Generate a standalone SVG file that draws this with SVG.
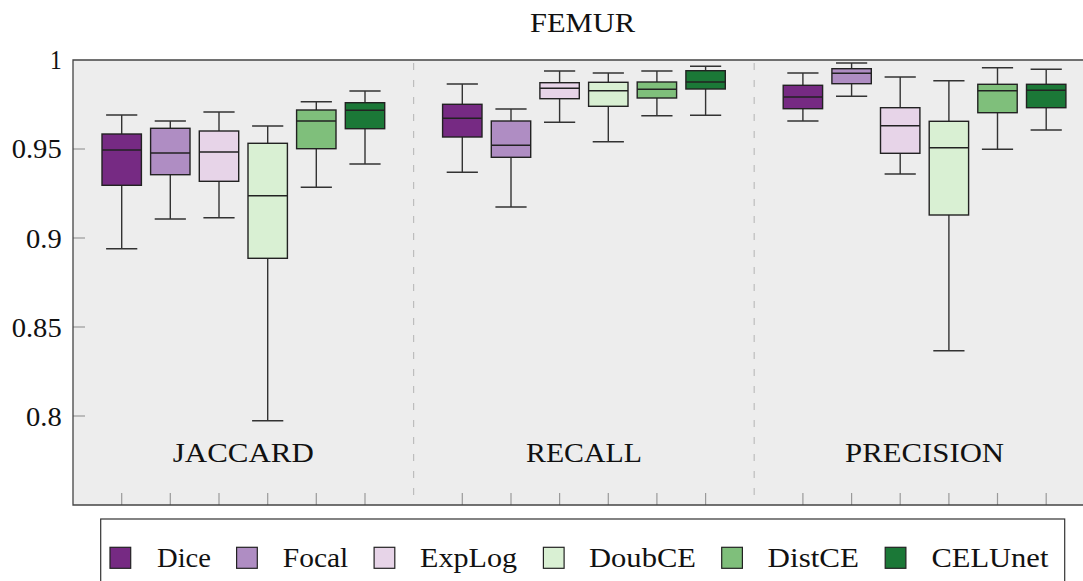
<svg xmlns="http://www.w3.org/2000/svg" width="1083" height="581" viewBox="0 0 1083 581">
  <style>
    .lbl { font-family: "Liberation Serif", "DejaVu Serif", "Times New Roman", serif; font-size: 28px; fill: #111; }
    .frame { fill: none; stroke: #444; stroke-width: 1.3; }
    .tick { stroke: #9a9a9a; stroke-width: 1.2; }
    .sep { stroke: #bdbdbd; stroke-width: 1.2; stroke-dasharray: 7 10; }
    .whisk { stroke: #333; stroke-width: 1.4; fill: none; }
    .box { stroke: #222; stroke-width: 1.4; }
    .med { stroke: #222; stroke-width: 1.4; }
    .c0 { fill: #762a83; }
    .c1 { fill: #af8dc3; }
    .c2 { fill: #e7d4e8; }
    .c3 { fill: #d9f0d3; }
    .c4 { fill: #7fbf7b; }
    .c5 { fill: #1b7837; }
    .key { stroke: #222; stroke-width: 1.2; }
  </style>

  <!-- title -->
  <text class="lbl" font-family="Liberation Serif, DejaVu Serif, serif" x="530" y="31.7" textLength="105" lengthAdjust="spacingAndGlyphs">FEMUR</text>

  <!-- plot area -->
  <g id="axes">
    <rect x="73" y="60" width="1030" height="445" fill="#ededed"/>
    <line class="sep" x1="413.6" y1="63" x2="413.6" y2="505"/>
    <line class="sep" x1="754.2" y1="63" x2="754.2" y2="505"/>
    <!-- y ticks -->
    <line class="tick" x1="73" y1="149" x2="85" y2="149"/>
    <line class="tick" x1="73" y1="238" x2="85" y2="238"/>
    <line class="tick" x1="73" y1="327" x2="85" y2="327"/>
    <line class="tick" x1="73" y1="416" x2="85" y2="416"/>
    <!-- x ticks -->
    <g class="tick">
      <line x1="121.7" y1="493" x2="121.7" y2="505"/>
      <line x1="170.3" y1="493" x2="170.3" y2="505"/>
      <line x1="219.0" y1="493" x2="219.0" y2="505"/>
      <line x1="267.7" y1="493" x2="267.7" y2="505"/>
      <line x1="316.3" y1="493" x2="316.3" y2="505"/>
      <line x1="365.0" y1="493" x2="365.0" y2="505"/>
      <line x1="462.3" y1="493" x2="462.3" y2="505"/>
      <line x1="511.0" y1="493" x2="511.0" y2="505"/>
      <line x1="559.6" y1="493" x2="559.6" y2="505"/>
      <line x1="608.3" y1="493" x2="608.3" y2="505"/>
      <line x1="656.9" y1="493" x2="656.9" y2="505"/>
      <line x1="705.6" y1="493" x2="705.6" y2="505"/>
      <line x1="802.9" y1="493" x2="802.9" y2="505"/>
      <line x1="851.6" y1="493" x2="851.6" y2="505"/>
      <line x1="900.2" y1="493" x2="900.2" y2="505"/>
      <line x1="948.9" y1="493" x2="948.9" y2="505"/>
      <line x1="997.5" y1="493" x2="997.5" y2="505"/>
      <line x1="1046.2" y1="493" x2="1046.2" y2="505"/>
    </g>
    <path class="frame" d="M1103,60 H73 V505 H1103"/>
    <!-- y tick labels -->
    <g class="lbl" font-family="Liberation Serif, DejaVu Serif, serif">
      <text x="50" y="69" textLength="11.7" lengthAdjust="spacingAndGlyphs">1</text>
      <text x="11.7" y="158" textLength="50" lengthAdjust="spacingAndGlyphs">0.95</text>
      <text x="26" y="247.5" textLength="35.7" lengthAdjust="spacingAndGlyphs">0.9</text>
      <text x="11.7" y="336.5" textLength="50" lengthAdjust="spacingAndGlyphs">0.85</text>
      <text x="26" y="425.5" textLength="35.7" lengthAdjust="spacingAndGlyphs">0.8</text>
      <!-- group labels -->
      <text x="243.3" y="462" text-anchor="middle" textLength="141" lengthAdjust="spacingAndGlyphs">JACCARD</text>
      <text x="584" y="462" text-anchor="middle" textLength="116" lengthAdjust="spacingAndGlyphs">RECALL</text>
      <text x="924.6" y="462" text-anchor="middle" textLength="159" lengthAdjust="spacingAndGlyphs">PRECISION</text>
    </g>
  </g>

  <!-- JACCARD -->
  <g id="jaccard-dice">
    <path class="whisk" d="M121.7,115 V134 M121.7,185.3 V248.7 M106.1,115 H137.3 M106.1,248.7 H137.3"/>
    <rect class="box c0" x="102" y="134" width="39.4" height="51.3"/>
    <line class="med" x1="102" y1="150" x2="141.4" y2="150"/>
  </g>
  <g id="jaccard-focal">
    <path class="whisk" d="M170.3,121 V128.3 M170.3,174.7 V219 M154.7,121 H185.9 M154.7,219 H185.9"/>
    <rect class="box c1" x="150.6" y="128.3" width="39.4" height="46.4"/>
    <line class="med" x1="150.6" y1="153" x2="190" y2="153"/>
  </g>
  <g id="jaccard-explog">
    <path class="whisk" d="M219,112 V131 M219,181.3 V217.7 M203.4,112 H234.6 M203.4,217.7 H234.6"/>
    <rect class="box c2" x="199.3" y="131" width="39.4" height="50.3"/>
    <line class="med" x1="199.3" y1="152" x2="238.7" y2="152"/>
  </g>
  <g id="jaccard-doubce">
    <path class="whisk" d="M267.7,126 V143.3 M267.7,258.3 V420.7 M252.1,126 H283.3 M252.1,420.7 H283.3"/>
    <rect class="box c3" x="248" y="143.3" width="39.4" height="115"/>
    <line class="med" x1="248" y1="195.7" x2="287.4" y2="195.7"/>
  </g>
  <g id="jaccard-distce">
    <path class="whisk" d="M316.3,101.7 V110 M316.3,148.7 V187.3 M300.7,101.7 H331.9 M300.7,187.3 H331.9"/>
    <rect class="box c4" x="296.6" y="110" width="39.4" height="38.7"/>
    <line class="med" x1="296.6" y1="121" x2="336" y2="121"/>
  </g>
  <g id="jaccard-celunet">
    <path class="whisk" d="M365,91 V102.7 M365,128.7 V164 M349.4,91 H380.6 M349.4,164 H380.6"/>
    <rect class="box c5" x="345.3" y="102.7" width="39.4" height="26"/>
    <line class="med" x1="345.3" y1="110.3" x2="384.7" y2="110.3"/>
  </g>

  <!-- RECALL -->
  <g id="recall-dice">
    <path class="whisk" d="M462.3,84 V104.3 M462.3,137 V172.3 M446.7,84 H477.9 M446.7,172.3 H477.9"/>
    <rect class="box c0" x="442.6" y="104.3" width="39.4" height="32.7"/>
    <line class="med" x1="442.6" y1="118.3" x2="482" y2="118.3"/>
  </g>
  <g id="recall-focal">
    <path class="whisk" d="M511,109 V121 M511,157.3 V207 M495.4,109 H526.6 M495.4,207 H526.6"/>
    <rect class="box c1" x="491.3" y="121" width="39.4" height="36.3"/>
    <line class="med" x1="491.3" y1="145.3" x2="530.7" y2="145.3"/>
  </g>
  <g id="recall-explog">
    <path class="whisk" d="M559.6,71 V82.7 M559.6,98.7 V122.3 M544,71 H575.2 M544,122.3 H575.2"/>
    <rect class="box c2" x="539.9" y="82.7" width="39.4" height="16"/>
    <line class="med" x1="539.9" y1="88.3" x2="579.3" y2="88.3"/>
  </g>
  <g id="recall-doubce">
    <path class="whisk" d="M608.3,73 V82.3 M608.3,106.3 V141.7 M592.7,73 H623.9 M592.7,141.7 H623.9"/>
    <rect class="box c3" x="588.6" y="82.3" width="39.4" height="24"/>
    <line class="med" x1="588.6" y1="90.7" x2="628" y2="90.7"/>
  </g>
  <g id="recall-distce">
    <path class="whisk" d="M656.9,71 V82 M656.9,98 V115.7 M641.3,71 H672.5 M641.3,115.7 H672.5"/>
    <rect class="box c4" x="637.2" y="82" width="39.4" height="16"/>
    <line class="med" x1="637.2" y1="89.3" x2="676.6" y2="89.3"/>
  </g>
  <g id="recall-celunet">
    <path class="whisk" d="M705.6,66.3 V70.7 M705.6,89 V115.3 M690,66.3 H721.2 M690,115.3 H721.2"/>
    <rect class="box c5" x="685.9" y="70.7" width="39.4" height="18.3"/>
    <line class="med" x1="685.9" y1="82" x2="725.3" y2="82"/>
  </g>

  <!-- PRECISION -->
  <g id="precision-dice">
    <path class="whisk" d="M802.9,73 V85.3 M802.9,108.7 V121 M787.3,73 H818.5 M787.3,121 H818.5"/>
    <rect class="box c0" x="783.2" y="85.3" width="39.4" height="23.4"/>
    <line class="med" x1="783.2" y1="97" x2="822.6" y2="97"/>
  </g>
  <g id="precision-focal">
    <path class="whisk" d="M851.6,63 V68.7 M851.6,83.7 V96.3 M836,63 H867.2 M836,96.3 H867.2"/>
    <rect class="box c1" x="831.9" y="68.7" width="39.4" height="15"/>
    <line class="med" x1="831.9" y1="73.3" x2="871.3" y2="73.3"/>
  </g>
  <g id="precision-explog">
    <path class="whisk" d="M900.2,77 V107.7 M900.2,153.3 V174 M884.6,77 H915.8 M884.6,174 H915.8"/>
    <rect class="box c2" x="880.5" y="107.7" width="39.4" height="45.6"/>
    <line class="med" x1="880.5" y1="125.7" x2="919.9" y2="125.7"/>
  </g>
  <g id="precision-doubce">
    <path class="whisk" d="M948.9,80.7 V121.3 M948.9,215 V350.7 M933.3,80.7 H964.5 M933.3,350.7 H964.5"/>
    <rect class="box c3" x="929.2" y="121.3" width="39.4" height="93.7"/>
    <line class="med" x1="929.2" y1="147.7" x2="968.6" y2="147.7"/>
  </g>
  <g id="precision-distce">
    <path class="whisk" d="M997.5,67.7 V84.3 M997.5,112.7 V149.3 M981.9,67.7 H1013.1 M981.9,149.3 H1013.1"/>
    <rect class="box c4" x="977.8" y="84.3" width="39.4" height="28.4"/>
    <line class="med" x1="977.8" y1="90.7" x2="1017.2" y2="90.7"/>
  </g>
  <g id="precision-celunet">
    <path class="whisk" d="M1046.2,69.3 V84.3 M1046.2,107.7 V130 M1030.6,69.3 H1061.8 M1030.6,130 H1061.8"/>
    <rect class="box c5" x="1026.5" y="84.3" width="39.4" height="23.4"/>
    <line class="med" x1="1026.5" y1="90.3" x2="1065.9" y2="90.3"/>
  </g>

  <!-- legend -->
  <g id="legend">
    <rect x="100.7" y="519" width="964" height="80" fill="#fff" stroke="#333" stroke-width="1.2"/>
    <rect class="key c0" x="110" y="547.3" width="20.7" height="21"/>
    <rect class="key c1" x="236.6" y="547.3" width="20.7" height="21"/>
    <rect class="key c2" x="374.1" y="547.3" width="20.7" height="21"/>
    <rect class="key c3" x="543.4" y="547.3" width="20.7" height="21"/>
    <rect class="key c4" x="721.7" y="547.3" width="20.7" height="21"/>
    <rect class="key c5" x="885.2" y="547.3" width="20.7" height="21"/>
    <g class="lbl" font-family="Liberation Serif, DejaVu Serif, serif">
      <text x="157" y="567" textLength="54" lengthAdjust="spacingAndGlyphs">Dice</text>
      <text x="282.8" y="567" textLength="65.5" lengthAdjust="spacingAndGlyphs">Focal</text>
      <text x="420" y="567" textLength="97" lengthAdjust="spacingAndGlyphs">ExpLog</text>
      <text x="589" y="567" textLength="107" lengthAdjust="spacingAndGlyphs">DoubCE</text>
      <text x="767.6" y="567" textLength="91.4" lengthAdjust="spacingAndGlyphs">DistCE</text>
      <text x="931.4" y="567" textLength="117" lengthAdjust="spacingAndGlyphs">CELUnet</text>
    </g>
  </g>
</svg>
